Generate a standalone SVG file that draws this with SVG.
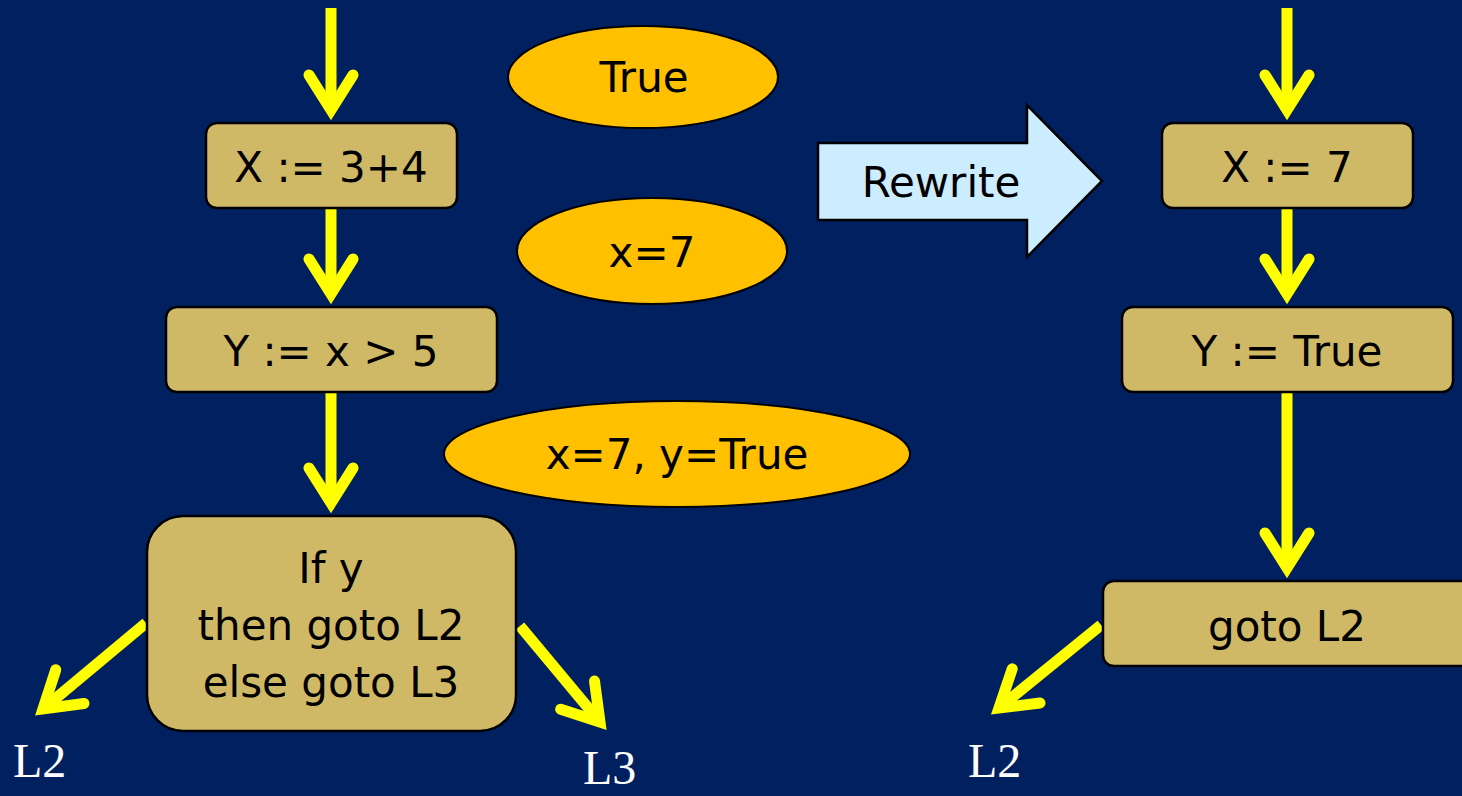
<svg xmlns="http://www.w3.org/2000/svg" width="1462" height="796" viewBox="0 0 1462 796">
  <style>
    .bg { fill: #002060; }
    .box { fill: #CFB967; stroke: #000; stroke-width: 2.5; }
    .fact { fill: #FFC000; stroke: #000; stroke-width: 2; }
    .rw { fill: #CCECFF; stroke: #000; stroke-width: 2.5; stroke-linejoin: miter; }
    .t { font-family: "DejaVu Sans", "Liberation Sans", sans-serif; font-size: 42px; fill: #000; text-anchor: middle; }
    .lbl { font-family: "Liberation Serif", "Times New Roman", serif; font-size: 48px; fill: #fff; }
    .edge { stroke: #FFFF00; stroke-width: 11; fill: none; stroke-linecap: butt; marker-end: url(#head); }
  </style>
  <defs>
    <marker id="head" markerUnits="userSpaceOnUse" orient="auto" refX="0" refY="0" markerWidth="10" markerHeight="10" overflow="visible">
      <polyline points="-35,-22 0,0 -35,22" fill="none" stroke="#FFFF00" stroke-width="11" stroke-linecap="round" stroke-linejoin="miter" stroke-miterlimit="10"/>
    </marker>
  </defs>

  <rect class="bg" x="0" y="0" width="1462" height="796"/>

  <!-- flow edges -->
  <g id="connectors">
    <line class="edge" x1="331" y1="8" x2="331" y2="110"/>
    <line class="edge" x1="331" y1="209" x2="331" y2="294"/>
    <line class="edge" x1="331" y1="393" x2="331" y2="503"/>
    <line class="edge" x1="146" y1="623" x2="43" y2="709"/>
    <line class="edge" x1="520" y1="626" x2="600" y2="722"/>
    <line class="edge" x1="1287" y1="8" x2="1287" y2="110"/>
    <line class="edge" x1="1287" y1="209" x2="1287" y2="294"/>
    <line class="edge" x1="1287" y1="393" x2="1287" y2="568"/>
    <line class="edge" x1="1101" y1="625" x2="999" y2="708"/>
  </g>

  <!-- original program -->
  <g id="assign-x">
    <rect class="box" x="206" y="123" width="251" height="85" rx="11"/>
    <text class="t" x="331" y="182">X := 3+4</text>
  </g>
  <g id="assign-y">
    <rect class="box" x="166" y="307" width="331" height="85" rx="11"/>
    <text class="t" x="331" y="366">Y := x &gt; 5</text>
  </g>
  <g id="branch">
    <rect class="box" x="147" y="516" width="369" height="215" rx="36"/>
    <text class="t" x="331" y="583">If y</text>
    <text class="t" x="331" y="640">then goto L2</text>
    <text class="t" x="331" y="697">else goto L3</text>
  </g>

  <!-- dataflow facts -->
  <g id="fact-true">
    <ellipse class="fact" cx="643" cy="77" rx="135" ry="51"/>
    <text class="t" x="644" y="92">True</text>
  </g>
  <g id="fact-x7">
    <ellipse class="fact" cx="652" cy="251" rx="135" ry="53"/>
    <text class="t" x="652" y="267">x=7</text>
  </g>
  <g id="fact-x7-ytrue">
    <ellipse class="fact" cx="677" cy="454" rx="233" ry="53"/>
    <text class="t" x="677" y="469">x=7, y=True</text>
  </g>

  <!-- rewrite arrow -->
  <g id="rewrite">
    <polygon class="rw" points="818,143 1027,143 1027,105 1102,181 1027,257 1027,220 818,220"/>
    <text class="t" x="941" y="197">Rewrite</text>
  </g>

  <!-- rewritten program -->
  <g id="assign-x-const">
    <rect class="box" x="1162" y="123" width="251" height="85" rx="11"/>
    <text class="t" x="1287" y="182">X := 7</text>
  </g>
  <g id="assign-y-const">
    <rect class="box" x="1122" y="307" width="331" height="85" rx="11"/>
    <text class="t" x="1287" y="366">Y := True</text>
  </g>
  <g id="goto">
    <rect class="box" x="1103" y="581" width="390" height="85" rx="11"/>
    <text class="t" x="1287" y="641">goto L2</text>
  </g>

  <!-- jump targets -->
  <g id="targets">
    <text class="lbl" x="13" y="777">L2</text>
    <text class="lbl" x="583" y="784">L3</text>
    <text class="lbl" x="968" y="777">L2</text>
  </g>
</svg>
